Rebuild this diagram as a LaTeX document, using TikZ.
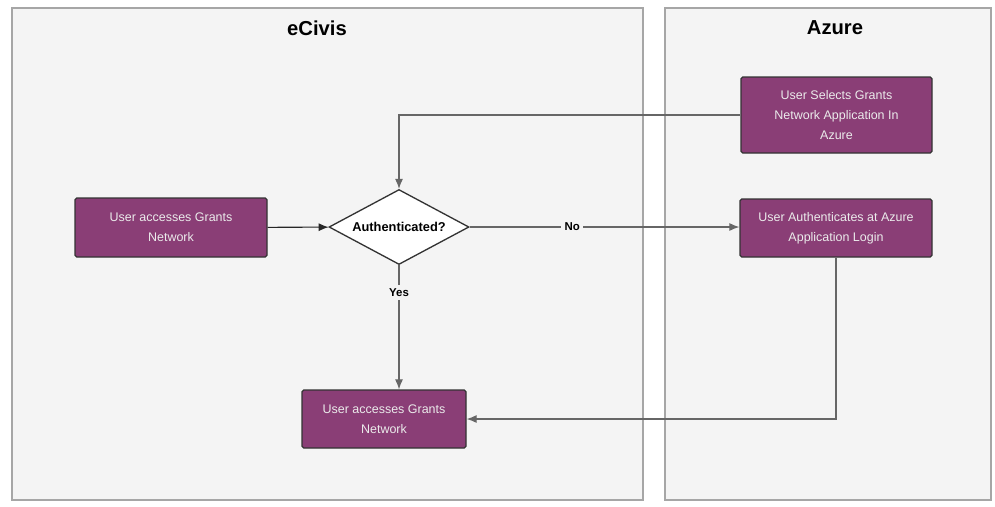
\documentclass[tikz,border=0pt]{standalone}
\usepackage{fontspec}
\setmainfont{Liberation Sans}
\usetikzlibrary{shapes.geometric,arrows.meta}
\definecolor{boxfill}{RGB}{138,62,118}
\definecolor{panelfill}{RGB}{244,244,244}
\tikzset{every picture/.style={line width=0.75pt}}

\begin{document}
\begin{tikzpicture}
  \tikzset{
    lane/.style={draw=gray!70, fill=panelfill, line width=0.6pt},
    stepbox/.style={draw=black!80, fill=boxfill, text=white!92!black, rounded corners=1pt, align=center, font=\fontsize{7.1}{11.5}\selectfont, inner sep=2pt},
    decision/.style={diamond, draw=black!80, fill=white, aspect=1.87, minimum width=2.8cm, minimum height=1.5cm, inner sep=0pt, font=\bfseries\fontsize{7.3}{9}\selectfont},
    conn/.style={draw=gray!80!black, line width=0.6pt, -{Latex[length=2mm,width=1.6mm]}},
    tag/.style={fill=panelfill, font=\bfseries\fontsize{6.5}{8}\selectfont, inner sep=2pt},
  }
  \useasboundingbox (0,0) rectangle (19.9,-10.12);
  \fill[white] (0,0) rectangle (19.9,-10.12);

    \draw[lane] (0.24,-0.16) rectangle (12.86,-10.0);
    \draw[lane] (13.3,-0.16) rectangle (19.82,-10.0);

    \node[font=\bfseries\fontsize{11.5}{13}\selectfont] (ecivis) at (6.34,-0.56) {eCivis};
    \node[font=\bfseries\fontsize{11.5}{13}\selectfont] (azure) at (16.7,-0.56) {Azure};

    \node[stepbox, minimum width=3.84cm, minimum height=1.18cm] (access) at (3.42,-4.55) {User accesses Grants\\Network};
    \node[decision] (auth) at (7.98,-4.54) {Authenticated?};
    \node[stepbox, minimum width=3.28cm, minimum height=1.16cm] (granted) at (7.68,-8.38) {User accesses Grants\\Network};
    \node[stepbox, minimum width=3.82cm, minimum height=1.52cm] (azselect) at (16.73,-2.3) {User Selects Grants\\Network Application In\\Azure};
    \node[stepbox, minimum width=3.84cm, minimum height=1.16cm] (azlogin) at (16.72,-4.56) {User Authenticates at Azure\\Application Login};

    \draw[conn, draw=black!85] (access) -- (auth);
    \draw[conn] (auth.east) -- node[tag, pos=0.38] (no) {No} (auth.east -| azlogin.west);
    \draw[conn] (azselect.west) -| (auth.north);
    \draw[conn] (auth.south) -- node[tag, pos=0.22] (yes) {Yes} (auth.south |- granted.north);
    \draw[conn] (azlogin.south) |- (granted.east);
\end{tikzpicture}
\end{document}
